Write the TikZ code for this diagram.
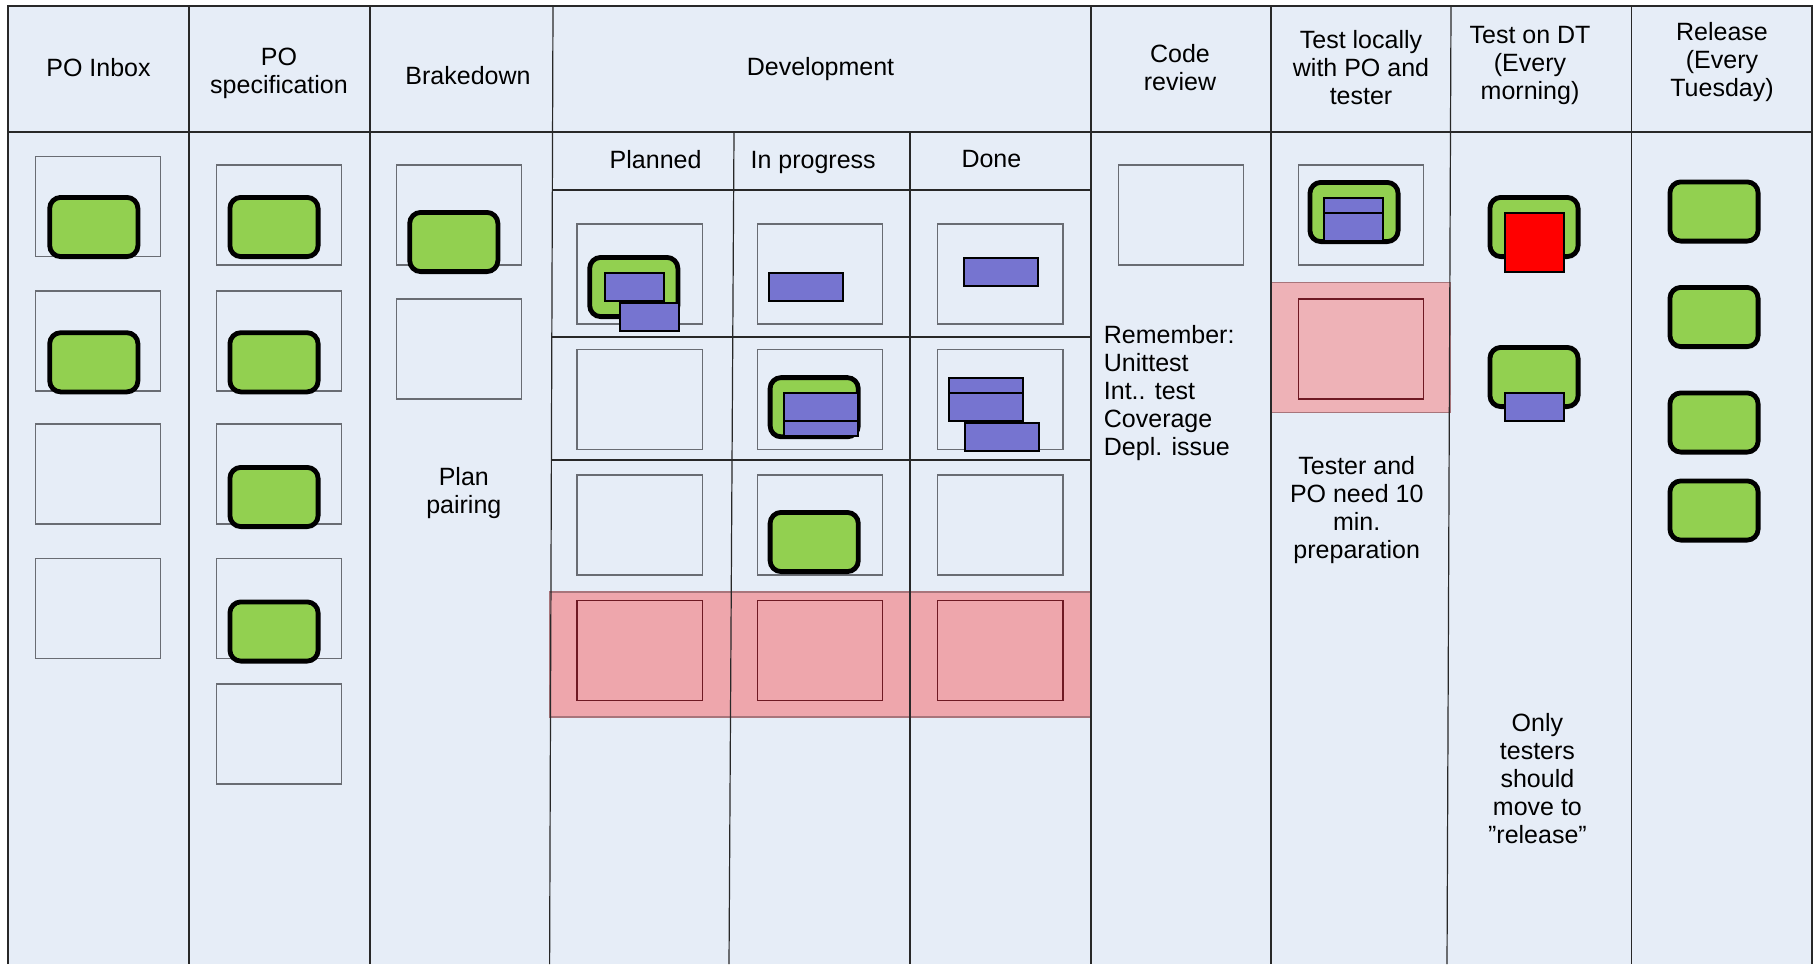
\documentclass[tikz,border=0pt]{standalone}
\usepackage{fontspec}
\setmainfont{Liberation Sans}
\usepackage{tikz}
\usetikzlibrary{positioning}
\definecolor{boardbg}{RGB}{230,237,247}
\definecolor{gridline}{RGB}{40,40,40}
\definecolor{slotgray}{RGB}{105,108,115}
\definecolor{cardgreen}{RGB}{146,208,80}
\definecolor{taskblue}{RGB}{118,116,208}
\definecolor{wipdev}{RGB}{238,166,172}
\definecolor{wiptest}{RGB}{238,178,183}
\definecolor{wipline}{RGB}{110,25,35}
\tikzset{
	slot/.style={
		rectangle,
		draw=slotgray,
		line width=0.65pt,
		minimum width=62.6pt,
		minimum height=50pt,
		inner sep=0pt
	},
	wipslot/.style={
		slot,
		draw=wipline
	},
	card/.style={
		rectangle,
		rounded corners=5.5pt,
		draw=black,
		line width=2.4pt,
		fill=cardgreen,
		minimum width=44.1pt,
		minimum height=29.6pt,
		inner sep=0pt
	},
	task/.style={
		rectangle,
		draw=black,
		line width=1pt,
		fill=taskblue,
		minimum width=37pt,
		minimum height=14pt,
		inner sep=0pt
	},
	narrowtask/.style={
		task,
		minimum width=29.5pt
	},
	bug/.style={
		task,
		fill=red,
		minimum width=29.5pt,
		minimum height=29.5pt
	},
	headtext/.style={
		align=center,
		inner sep=0pt,
		font=\fontsize{12.5}{14}\selectfont
	}
}

\begin{document}
\begin{tikzpicture}[x=0.5pt, y=-0.5pt]
	\useasboundingbox (0,0) rectangle (1818,964);
	\fill[boardbg] (8,6) rectangle (1812,964);
	\filldraw[fill=wipdev, draw=wipline!60, line width=0.6pt] (549.6,592) rectangle (1091,717);
	\filldraw[fill=wiptest, draw=wipline!60, line width=0.6pt] (1271,282.3) rectangle (1450.8,412.3);

	\draw[gridline, line width=0.6pt] (8,964) -- (8,6) -- (1812,6) -- (1812,964);
	\draw[gridline, line width=0.6pt] (189,6) -- (189,964);
	\draw[gridline, line width=0.6pt] (370,6) -- (370,964);
	\draw[gridline, line width=0.6pt] (553,6) -- (549.6,964);
	\draw[gridline, line width=0.6pt] (734,132) -- (729,964);
	\draw[gridline, line width=0.6pt] (910,132) -- (910,964);
	\draw[gridline, line width=0.6pt] (1091,6) -- (1091,964);
	\draw[gridline, line width=0.6pt] (1271,6) -- (1271,964);
	\draw[gridline, line width=0.6pt] (1451,6) -- (1447,964);
	\draw[gridline, line width=0.6pt] (1631.5,6) -- (1631.5,964);
	\draw[gridline, line width=0.6pt] (8,132) -- (1812,132);
	\draw[gridline, line width=0.6pt] (553,190) -- (1091,190);
	\draw[gridline, line width=0.6pt] (552,337) -- (1091,337);
	\draw[gridline, line width=0.6pt] (551,460) -- (1091,460);

	\node[headtext] (hinbox) at (98.5,67.7) {PO Inbox};
	\node[headtext] (hspec) at (279,73) {PO\\specification};
	\node[headtext] (hbreak) at (468,76) {Brakedown};
	\node[headtext] (hdev) at (820.5,69.5) {Development};
	\node[headtext] (hplanned) at (655.6,159.5) {Planned};
	\node[headtext] (hprogress) at (813.2,162) {In progress};
	\node[headtext] (hdone) at (991.4,159.5) {Done};
	\node[headtext] (hreview) at (1180,68) {Code\\review};
	\node[headtext] (hlocal) at (1361,68) {Test locally\\with PO and\\tester};
	\node[headtext] (hdt) at (1530,65) {Test on DT\\(Every\\morning)};
	\node[headtext] (hrelease) at (1722,62.5) {Release\\(Every\\Tuesday)};

	\node[slot] (inbox1) at (98.2,206.8) {};
	\node[slot] (inbox2) at (98.2,341) {};
	\node[slot] (inbox3) at (98.2,474) {};
	\node[slot] (inbox4) at (98.2,608.7) {};
	\node[slot] (spec1) at (278.8,215) {};
	\node[slot] (spec2) at (278.8,341) {};
	\node[slot] (spec3) at (278.8,474) {};
	\node[slot] (spec4) at (278.8,608.7) {};
	\node[slot] (spec5) at (278.8,734) {};
	\node[slot] (brk1) at (459.2,215) {};
	\node[slot] (brk2) at (459.2,349) {};
	\node[slot] (planned1) at (639.7,274) {};
	\node[slot] (planned2) at (639.7,399.5) {};
	\node[slot] (planned3) at (639.7,525) {};
	\node[wipslot] (planned4) at (639.7,650.7) {};
	\node[slot] (progress1) at (820,274) {};
	\node[slot] (progress2) at (820,399.5) {};
	\node[slot] (progress3) at (820,525) {};
	\node[wipslot] (progress4) at (820,650.7) {};
	\node[slot] (done1) at (1000.4,274) {};
	\node[slot] (done2) at (1000.4,399.5) {};
	\node[slot] (done3) at (1000.4,525) {};
	\node[wipslot] (done4) at (1000.4,650.7) {};
	\node[slot] (review1) at (1181,215) {};
	\node[slot] (local1) at (1361,215) {};
	\node[wipslot] (local2) at (1361,349) {};

	\node[card] (inboxcard1) at (93.8,227) {};
	\node[card] (inboxcard2) at (93.8,362.3) {};
	\node[card] (speccard1) at (274,227) {};
	\node[card] (speccard2) at (274,362.3) {};
	\node[card] (speccard3) at (274,497) {};
	\node[card] (speccard4) at (274,631.5) {};
	\node[card] (brkcard) at (453.8,242) {};
	\node[card] (plannedcard) at (633.8,287) {};
	\node[card] (progresscard1) at (814.2,407.2) {};
	\node[card] (progresscard2) at (814.2,542) {};
	\node[card] (localcard) at (1354,212) {};
	\node[card] (dtcard1) at (1534,227) {};
	\node[card] (dtcard2) at (1534,377) {};
	\node[card] (relcard1) at (1714,211.5) {};
	\node[card] (relcard2) at (1714,317) {};
	\node[card] (relcard3) at (1714,422.5) {};
	\node[card] (relcard4) at (1714,510.5) {};

	\node[narrowtask] (plannedtask1) at (634,287) {};
	\node[narrowtask] (plannedtask2) at (649,317) {};
	\node[task] (progresstask1) at (806.4,287) {};
	\node[task] (donetask1) at (1001.4,271.8) {};
	\node[task] (progresstask2) at (821.3,422) {};
	\node[task] (progresstask3) at (821.3,407) {};
	\node[task] (donetask2) at (986.4,392) {};
	\node[task] (donetask3) at (986.4,407) {};
	\node[task] (donetask4) at (1001.5,437) {};
	\node[narrowtask] (localtask1) at (1353.7,212) {};
	\node[narrowtask] (localtask2) at (1353.7,226.5) {};
	\node[bug] (dtbug) at (1534,242) {};
	\node[narrowtask] (dttask) at (1534,407) {};

	\node[headtext] (pairing) at (463.8,493.5) {Plan\\pairing};
	\node[headtext, align=left, anchor=west] (remember) at (1103.5,393) {Remember:\\Unittest\\Int.. test\\Coverage\\Depl. issue};
	\node[headtext] (prepnote) at (1356.7,510) {Tester and\\PO need 10\\min.\\preparation};
	\node[headtext] (onlynote) at (1537.4,778.5) {Only\\testers\\should\\move to\\”release”};
\end{tikzpicture}
\end{document}
